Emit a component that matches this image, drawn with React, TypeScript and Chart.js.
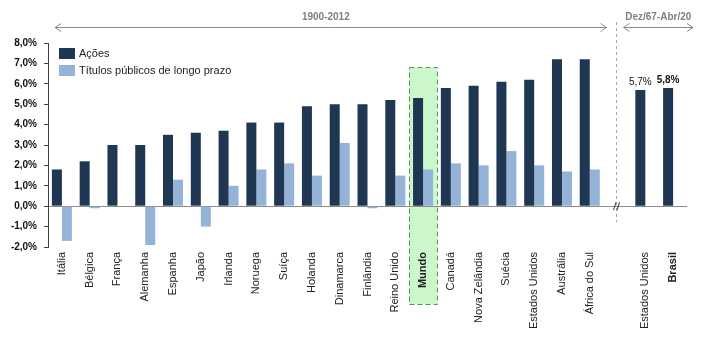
import React, { useEffect, useRef } from "react";
import { Chart, registerables } from "chart.js";

Chart.register(...registerables);

const categories = [
  "Itália", "Bélgica", "França", "Alemanha", "Espanha", "Japão", "Irlanda",
  "Noruega", "Suíça", "Holanda", "Dinamarca", "Finlândia", "Reino Unido",
  "Mundo", "Canadá", "Nova Zelândia", "Suécia", "Estados Unidos", "Austrália",
  "África do Sul", "", "Estados Unidos", "Brasil",
];
const acoes = [
  1.8, 2.2, 3.0, 3.0, 3.5, 3.6, 3.7, 4.1, 4.1, 4.9, 5.0, 5.0, 5.2, 5.3, 5.8,
  5.9, 6.1, 6.2, 7.2, 7.2, null, 5.7, 5.8,
];
const titulos = [
  -1.7, -0.1, 0.0, -1.9, 1.3, -1.0, 1.0, 1.8, 2.1, 1.5, 3.1, -0.1, 1.5, 1.8,
  2.1, 2.0, 2.7, 2.0, 1.7, 1.8, null, null, null,
];
const seriesNames = ["Ações", "Títulos públicos de longo prazo"];
const periodLabels = ["1900-2012", "Dez/67-Abr/20"];
const highlightIndex = 13;
const boldIndices = [13, 22];
const labeledIndices = [21, 22];
const gapIndex = 20;
const yMin = -2;
const yMax = 8;
const highlightTop = 6.8;

const DARK = "#1f3752";
const LIGHT = "#95b3d7";
const FONT = "'Liberation Sans', Arial, sans-serif";

const fmt = (v: number) => v.toFixed(1).replace(".", ",") + "%";

const overlay = {
  id: "overlay",
  beforeDraw(chart: any) {
    const { ctx, chartArea } = chart;
    const x = chart.scales.x;
    const y = chart.scales.y;
    const half = (x.getPixelForValue(1) - x.getPixelForValue(0)) / 2;
    const cx = x.getPixelForValue(highlightIndex);
    const top = y.getPixelForValue(highlightTop);
    const bottom = chartArea.bottom + 57;
    ctx.save();
    ctx.fillStyle = "#ccf7cc";
    ctx.fillRect(cx - half, top, half * 2, bottom - top);
    ctx.strokeStyle = "#4e9a4e";
    ctx.lineWidth = 1;
    ctx.setLineDash([5, 3]);
    ctx.strokeRect(Math.round(cx - half) + 0.5, Math.round(top) + 0.5, Math.round(half * 2), Math.round(bottom - top));
    ctx.restore();
  },
  afterDraw(chart: any) {
    const { ctx, chartArea } = chart;
    const x = chart.scales.x;
    const y = chart.scales.y;
    const step = x.getPixelForValue(1) - x.getPixelForValue(0);
    const dashX = Math.round(x.getPixelForValue(gapIndex) - 2) + 0.5;
    const zeroY = y.getPixelForValue(0);
    ctx.save();

    // dashed separator
    ctx.strokeStyle = "#a6a6a6";
    ctx.lineWidth = 1;
    ctx.setLineDash([3, 3]);
    ctx.beginPath();
    ctx.moveTo(dashX, 22);
    ctx.lineTo(dashX, zeroY + 16);
    ctx.stroke();
    ctx.setLineDash([]);

    // break marker
    ctx.strokeStyle = "#333";
    ctx.beginPath();
    ctx.moveTo(dashX - 3, zeroY + 4);
    ctx.lineTo(dashX - 0.5, zeroY - 4);
    ctx.moveTo(dashX + 0.5, zeroY + 4);
    ctx.lineTo(dashX + 3, zeroY - 4);
    ctx.stroke();

    // arrows
    const arrowY = 27.5;
    const drawArrow = (x1: number, x2: number) => {
      ctx.strokeStyle = "#8c8c8c";
      ctx.lineWidth = 1;
      ctx.beginPath();
      ctx.moveTo(x1, arrowY);
      ctx.lineTo(x2, arrowY);
      ctx.moveTo(x1 + 6, arrowY - 4);
      ctx.lineTo(x1, arrowY);
      ctx.lineTo(x1 + 6, arrowY + 4);
      ctx.moveTo(x2 - 6, arrowY - 4);
      ctx.lineTo(x2, arrowY);
      ctx.lineTo(x2 - 6, arrowY + 4);
      ctx.stroke();
    };
    const a1 = chartArea.left + 7;
    const a2 = dashX - 10;
    const b1 = dashX + 7;
    const b2 = chartArea.right + 6;
    drawArrow(a1, a2);
    drawArrow(b1, b2);
    ctx.fillStyle = "#7f7f7f";
    ctx.font = `bold 10px ${FONT}`;
    ctx.textAlign = "center";
    ctx.textBaseline = "middle";
    ctx.fillText(periodLabels[0], x.getPixelForValue(9.5), 17);
    ctx.fillText(periodLabels[1], (b1 + b2) / 2, 17);

    // value labels
    const meta = chart.getDatasetMeta(0);
    ctx.fillStyle = "#111";
    ctx.textBaseline = "bottom";
    labeledIndices.forEach((i) => {
      const bar = meta.data[i];
      const v = acoes[i] as number;
      ctx.font = `${boldIndices.includes(i) ? "bold " : ""}10px ${FONT}`;
      ctx.fillText(fmt(v), bar.x, bar.y - 3);
    });

    // legend
    const items = [
      { label: seriesNames[0], color: DARK, y: 48 },
      { label: seriesNames[1], color: LIGHT, y: 65 },
    ];
    ctx.font = `11px ${FONT}`;
    ctx.textAlign = "left";
    ctx.textBaseline = "middle";
    items.forEach((it) => {
      ctx.fillStyle = it.color;
      ctx.fillRect(chartArea.left + 11, it.y, 16, 11);
      ctx.fillStyle = "#222";
      ctx.fillText(it.label, chartArea.left + 31, it.y + 6);
    });
    void step;
    ctx.restore();
  },
};

export default function App() {
  const ref = useRef<HTMLCanvasElement>(null);
  useEffect(() => {
    if (!ref.current) return;
    const chart = new Chart(ref.current, {
      type: "bar",
      data: {
        labels: categories,
        datasets: [
          { label: seriesNames[0], data: acoes, backgroundColor: DARK, categoryPercentage: 0.72, barPercentage: 1 },
          { label: seriesNames[1], data: titulos, backgroundColor: LIGHT, categoryPercentage: 0.72, barPercentage: 1 },
        ],
      },
      options: {
        animation: false,
        responsive: false,
        layout: { padding: { top: 43, right: 24, left: 0, bottom: 0 } },
        plugins: { legend: { display: false }, tooltip: { enabled: false } },
        scales: {
          x: {
            grid: { display: false, drawTicks: false },
            border: { display: false },
            afterFit: (s: any) => { s.height = 90; },
            ticks: {
              autoSkip: false,
              minRotation: 90,
              maxRotation: 90,
              padding: 5,
              color: "#222",
              font: (c: any) => ({ family: FONT, size: 11, weight: boldIndices.includes(c.index) ? "bold" : "normal" }),
            },
          },
          y: {
            min: yMin,
            max: yMax,
            afterFit: (s: any) => { s.width = 48; },
            border: { display: true, color: "#404040", width: 1 },
            grid: {
              color: (c: any) => (c.tick && c.tick.value === 0 ? "#8c8c8c" : "rgba(0,0,0,0)"),
              tickColor: "#404040",
              tickLength: 4,
              drawOnChartArea: true,
            },
            ticks: {
              stepSize: 1,
              padding: 7,
              color: "#111",
              font: { family: FONT, size: 10, weight: "bold" },
              callback: (v: any) => fmt(Number(v)),
            },
          },
        },
      },
      plugins: [overlay],
    });
    return () => chart.destroy();
  }, []);
  return (
    <div style={{ position: "fixed", left: 0, top: 0, width: 711, height: 337, background: "#fff" }}>
      <canvas ref={ref} width={711} height={337} style={{ width: 711, height: 337 }} />
    </div>
  );
}
